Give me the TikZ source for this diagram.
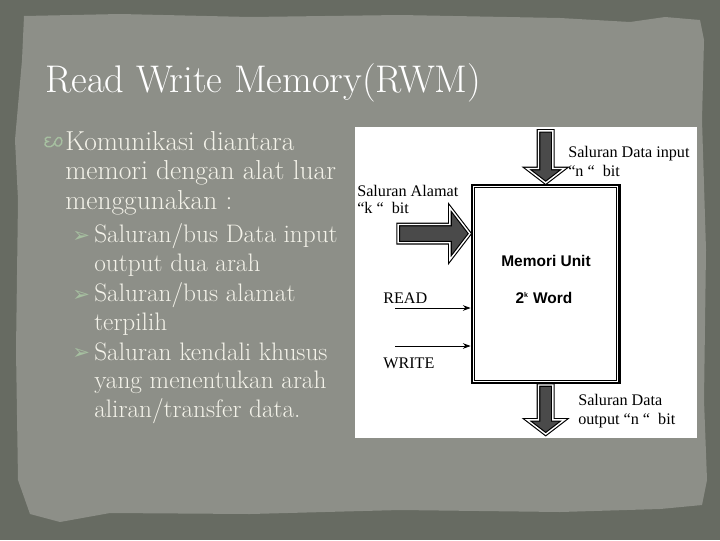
\documentclass[tikz,border=0pt]{standalone}
\usepackage{fontspec}
\newfontfamily\scanfont{Liberation Serif}
\newfontfamily\scansans{Liberation Sans}
\newfontfamily\symfont{DejaVu Sans}
\usepackage{tikz}
\usetikzlibrary{arrows.meta, calc, positioning, shapes.arrows}
\definecolor{slideedge}{HTML}{676B62}
\definecolor{slidepaper}{HTML}{8D8F88}
\definecolor{slidetext}{HTML}{F3F2E9}
\definecolor{bulletgreen}{HTML}{A6BFA0}
\definecolor{stipple}{HTML}{4A4A4A}

\begin{document}
\begin{tikzpicture}[x=0.025cm, y=-0.025cm,
  ttl/.style     = {anchor=base west, inner sep=0pt, font=\fontsize{27.4}{30}\selectfont, color=white},
  mainitem/.style = {anchor=base west, inner sep=0pt, align=left, font=\fontsize{19.5}{20.9}\selectfont, color=slidetext},
  subitem/.style  = {anchor=base west, inner sep=0pt, align=left, font=\fontsize{18}{20.2}\selectfont, color=slidetext},
  subbullet/.style = {anchor=base west, inner sep=0pt, font=\symfont\fontsize{15}{15}\selectfont, color=bulletgreen},
  fatarrow/.style = {single arrow, draw=black, double=white, double distance=1pt, line width=0.8pt, fill=stipple, single arrow tip angle=105, inner xsep=0pt},
  lbl/.style     = {anchor=west, inner sep=0pt, align=left, font=\scanfont\fontsize{11.5}{13.6}\selectfont},
  sig/.style     = {-{Stealth[length=5.5pt,width=4pt]}, line width=0.6pt},
]
\useasboundingbox (0,0) rectangle (720,540);
%%--- Slide background ---
\fill[slideedge] (0,0) rectangle (720,540);
\fill[slidepaper] (24,16) -- (120,14) -- (250,17) -- (400,15) -- (560,18) -- (630,22) -- (665,17) -- (700,20) -- (704,40) -- (702,120) -- (706,250) -- (704,400) -- (707,480) -- (702,505) -- (660,509) -- (560,512) -- (400,510) -- (250,514) -- (110,513) -- (60,522) -- (30,514) -- (18,480) -- (16,350) -- (18,200) -- (15,140) -- (22,60) -- cycle;
%%--- Title and bullets ---
%% multi-line nodes sit on the baseline of their last line
\node[ttl] (title) at (45,92) {Read Write Memory(RWM)};
\draw[bulletgreen, line width=1pt] (51,137.5) .. controls (45,135.5) and (43,141) .. (48,141.5) .. controls (43,142) and (44,148) .. (51,146.5) .. controls (55,145.5) and (55,139) .. (58,137.5) .. controls (62,136) and (64,144) .. (59,146) .. controls (56,147) and (54,143) .. (55,141);
\node[mainitem] (komu) at (65,209) {Komunikasi diantara\\memori dengan alat luar\\menggunakan :};
\node[subbullet] (b1) at (72,242) {➢};
\node[subitem] (bus1) at (94,271) {Saluran/bus Data input\\output dua arah};
\node[subbullet] (b2) at (72,301) {➢};
\node[subitem] (bus2) at (94,330) {Saluran/bus alamat\\terpilih};
\node[subbullet] (b3) at (72,359) {➢};
\node[subitem] (bus3) at (94,417) {Saluran kendali khusus\\yang menentukan arah\\aliran/transfer data.};
%%--- Scanned memory diagram ---
\fill[white] (355,127) rectangle (697,438);
\node[draw, line width=1.8pt, minimum width=105pt, minimum height=141pt, inner sep=0pt] (mem) at (545.7,284) {};
\draw[line width=0.6pt] ($(mem.north west)+(4,4)$) rectangle ($(mem.south east)+(-4,-4)$);
\node[font=\scansans\bfseries\fontsize{11}{13}\selectfont] (memname) at (546,261) {Memori Unit};
\node[font=\scansans\bfseries\fontsize{11}{13}\selectfont] (memsize) at (544,298) {2\textsuperscript{\tiny k} Word};
%% data in (top), address (left), data out (bottom)
\node[fatarrow, rotate=-90, anchor=tip, inner ysep=4.7pt, single arrow head extend=8.2pt, minimum height=37pt] (din) at (mem.north) {};
\node[fatarrow, anchor=tip, inner ysep=6.1pt, single arrow head extend=12pt, minimum height=51pt] (addr) at ($(mem.north west)+(0,50)$) {};
\node[fatarrow, rotate=-90, anchor=tail, inner ysep=4.7pt, single arrow head extend=8.2pt, minimum height=35pt] (dout) at (mem.south) {};
\node[lbl] (dinlbl) at (568,161.3) {Saluran Data input\\“n “~~bit};
\node[lbl, font=\scanfont\fontsize{11.5}{12.4}\selectfont] (addrlbl) at (357,199.7) {Saluran Alamat\\“k “~~bit};
\node[lbl] (doutlbl) at (578,411) {Saluran Data\\output “n “~~bit};
%% control lines
\coordinate (rdin) at (395,308);
\coordinate (wrin) at (395,346);
\draw[sig] (rdin) -- (rdin -| mem.west);
\draw[sig] (wrin) -- (wrin -| mem.west);
\node[lbl] (rdlbl) at (383,298) {READ};
\node[lbl] (wrlbl) at (383,363) {WRITE};
\end{tikzpicture}
\end{document}
